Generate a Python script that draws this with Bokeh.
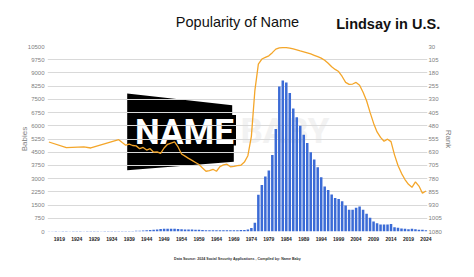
from bokeh.plotting import figure
from bokeh.models import Range1d, LinearAxis, FixedTicker, Label, PolyAnnotation, Title
from bokeh.embed import file_html
from bokeh.resources import INLINE

# ---------------- data ----------------
bar_years = list(range(1916, 2025))
births = [
    18, 20, 22, 20, 24, 22, 20, 25, 24, 22, 20, 22, 25, 24, 22, 20, 22, 24, 25, 26,  # 1916-1935
    28, 30, 30, 32, 35, 38, 45, 55, 65,                                              # 1936-1944
    80, 100, 120, 135, 150, 160, 158, 150, 140, 130, 120, 115, 110, 100, 95,         # 1945-1959
    85, 78, 72, 70, 68, 70, 70, 74, 70, 72, 75, 80, 90, 110, 200, 500,               # 1960-1975
    2080, 2646, 3117, 3457, 4347, 5820, 8234, 8574, 8461, 7860,                      # 1976-1985
    6988, 6478, 6007, 5497, 5027, 4496, 4080, 3644, 3078, 2550,                      # 1986-1995
    2361, 2097, 1908, 1851, 1719, 1473, 1228, 1228, 1341, 1417,                      # 1996-2005
    1228, 1001, 774, 567, 472, 397, 397, 397, 420, 246,                              # 2006-2015
    208, 170, 151, 132, 151, 132, 94, 94, 76,                                        # 2016-2024
]
rank_years = [1916, 1921, 1926, 1928] + list(range(1936, 2025))
ranks = [
    572, 604, 600, 606,
    559, 575, 590, 584, 592, 594, 610, 603, 618, 610,
    630, 628, 637, 606, 585, 578, 572, 600, 640, 652,
    665, 676, 688, 700, 720, 738, 735, 727, 738, 712,
    702, 698, 713, 710, 706, 704, 686, 650, 540, 280,
    130, 101, 92, 83, 65, 45, 38, 36, 36, 39,
    44, 49, 55, 60, 66, 72, 80, 88, 96, 108,
    125, 145, 160, 172, 200, 234, 245, 243, 234, 250,
    290, 338, 404, 465, 515, 546, 568, 556, 570, 645,
    705, 750, 785, 812, 829, 798, 822, 863, 850,
]
year_ticks = [1919, 1924, 1929, 1934, 1939, 1944, 1949, 1954, 1959, 1964, 1969,
              1974, 1979, 1984, 1989, 1994, 1999, 2004, 2009, 2014, 2019, 2024]
births_ticks = [0, 750, 1500, 2250, 3000, 3750, 4500, 5250, 6000, 6750, 7500,
                8250, 9000, 9750, 10500]
rank_ticks = [30, 105, 180, 255, 330, 405, 480, 555, 630, 705, 780, 855, 930,
              1005, 1080]

title_left = "Popularity of Name"
title_right = "Lindsay in U.S."
footer = "Data Source: 2024 Social Security Applications , Compiled by: Name Baby"

# ---------------- figure ----------------
FL, FB = 47, 231  # frame left / bottom in canvas px
PX_PER_YEAR = 3.5


def sx(x):
    return x - FL


def sy(y):
    return FB - y


p = figure(width=474, height=277, x_range=Range1d(1915.6, 2024.45),
           y_range=Range1d(0, 10500), output_backend="svg", toolbar_location=None,
           min_border_left=47, min_border_right=47, min_border_top=46,
           min_border_bottom=46)
p.extra_y_ranges = {"rank": Range1d(1080, 30)}
p.outline_line_color = None
p.background_fill_color = "white"
p.border_fill_color = "white"
p.title.text = ""
p.title.visible = False

p.xgrid.visible = False
p.ygrid.ticker = FixedTicker(ticks=births_ticks)
p.ygrid.grid_line_color = "#d9d9d9"
p.ygrid.grid_line_width = 1

# x axis
xa = p.xaxis[0]
xa.ticker = FixedTicker(ticks=year_ticks)
xa.axis_line_color = None
xa.major_tick_line_color = None
xa.minor_tick_line_color = None
xa.major_tick_out = 0
xa.minor_tick_out = 0
xa.major_label_text_font = "Liberation Sans"
xa.major_label_text_font_style = "bold"
xa.major_label_text_font_size = "5px"
xa.major_label_text_color = "#222222"
xa.major_label_standoff = 5

# left axis
ya = p.yaxis[0]
ya.ticker = FixedTicker(ticks=births_ticks)
ya.axis_line_color = None
ya.major_tick_line_color = None
ya.minor_tick_line_color = None
ya.major_tick_out = 0
ya.minor_tick_out = 0
ya.major_label_text_font = "Liberation Sans"
ya.major_label_text_font_size = "6px"
ya.major_label_text_color = "#808080"
ya.major_label_standoff = 3
ya.axis_label = "Babies"
ya.axis_label_text_font = "Liberation Sans"
ya.axis_label_text_font_style = "normal"
ya.axis_label_text_font_size = "8px"
ya.axis_label_text_color = "#808080"
ya.axis_label_standoff = -4

# right axis
ra = LinearAxis(y_range_name="rank", ticker=FixedTicker(ticks=rank_ticks))
ra.axis_line_color = None
ra.major_tick_line_color = None
ra.minor_tick_line_color = None
ra.major_tick_out = 0
ra.minor_tick_out = 0
ra.major_label_text_font = "Liberation Sans"
ra.major_label_text_font_size = "6px"
ra.major_label_text_color = "#808080"
ra.major_label_standoff = 1
ra.axis_label = "Rank"
ra.axis_label_text_font = "Liberation Sans"
ra.axis_label_text_font_style = "normal"
ra.axis_label_text_font_size = "8px"
ra.axis_label_text_color = "#808080"
ra.axis_label_standoff = -1
p.add_layout(ra, "right")

# title row: an above axis whose single tick label carries the bold part and
# whose axis label (centred on the frame) carries the regular part
title_x = 1915.6 + (388.6 - FL) / PX_PER_YEAR
ta = LinearAxis(ticker=FixedTicker(ticks=[title_x]),
                major_label_overrides={title_x: title_right})
ta.axis_line_color = None
ta.major_tick_line_color = None
ta.minor_tick_line_color = None
ta.major_tick_out = 0
ta.minor_tick_out = 0
ta.major_label_text_font = "Liberation Sans"
ta.major_label_text_font_style = "bold"
ta.major_label_text_font_size = "14.5px"
ta.major_label_text_color = "#111111"
ta.major_label_standoff = 15
ta.axis_label = title_left
ta.axis_label_text_font = "Liberation Sans"
ta.axis_label_text_font_style = "normal"
ta.axis_label_text_font_size = "14.5px"
ta.axis_label_text_color = "#111111"
ta.axis_label_standoff = -17
p.add_layout(ta, "above")

# logo (decoration, beneath gridlines)
logo_px = [(126.7, 93), (231.7, 104.7), (231.7, 114.5), (235.5, 114.5),
           (235.5, 145), (233.3, 145), (233.3, 161.3), (126.7, 169.7)]
logo = PolyAnnotation(xs=[sx(a) for a, b in logo_px], ys=[sy(b) for a, b in logo_px],
                      xs_units="screen", ys_units="screen",
                      fill_color="black", fill_alpha=1.0, line_color=None,
                      level="image")
p.add_layout(logo)
p.add_layout(Label(x=sx(240), y=sy(131), x_units="screen", y_units="screen",
                   text="BABY", text_font="Roboto", text_font_style="bold",
                   text_font_size="35px", text_color="#f2f2f2",
                   text_align="left", text_baseline="alphabetic", level="image"))
p.add_layout(Label(x=sx(184), y=sy(132), x_units="screen", y_units="screen",
                   text="NAME", text_font="Roboto", text_font_style="bold",
                   text_font_size="35px", text_color="white",
                   text_align="center", text_baseline="alphabetic", level="image"))

# data
p.vbar(x=bar_years, top=births, width=0.72, fill_color="#3b6bd6", line_color=None)
p.line(rank_years, ranks, y_range_name="rank", line_color="#f4a62a", line_width=1.3)

# footer
t_foot = Title(text=footer, align="center", text_font="Liberation Sans",
               text_font_style="bold", text_font_size="3.6px",
               text_color="#333333", standoff=22)
p.add_layout(t_foot, "below")

open("out.html", "w").write(file_html(p, INLINE))
